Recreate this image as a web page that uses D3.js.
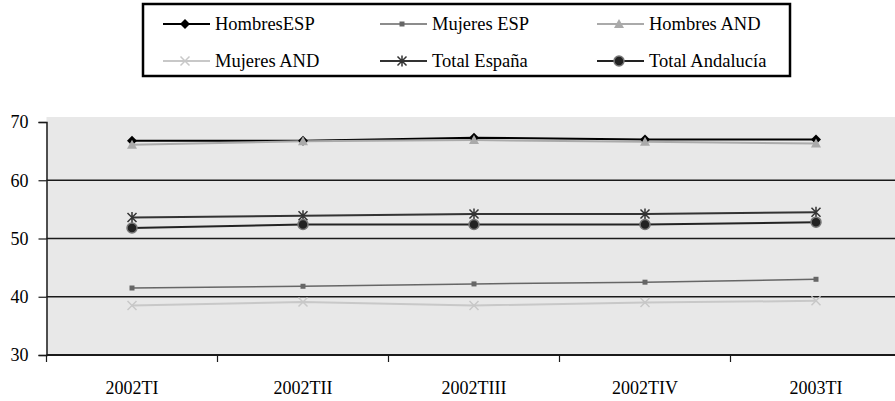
<!DOCTYPE html>
<html>
<head>
<meta charset="utf-8">
<script src="https://cdn.jsdelivr.net/npm/d3@7"></script>
<style>
  body { margin: 0; background: #fff; }
  svg { display: block; font-family: 'Liberation Serif', 'Times New Roman', Times, serif; }
</style>
</head>
<body>
<main></main>
<script>
const categories = ['2002TI', '2002TII', '2002TIII', '2002TIV', '2003TI'];
const yTicks = [30, 40, 50, 60, 70];

const hombresEsp = [66.8, 66.8, 67.3, 67.0, 67.0];
const mujeresEsp = [41.5, 41.8, 42.2, 42.5, 43.0];
const hombresAnd = [66.1, 66.7, 66.9, 66.6, 66.3];
const mujeresAnd = [38.5, 39.1, 38.5, 39.0, 39.3];
const totalEsp = [53.6, 53.9, 54.2, 54.2, 54.5];
const totalAnd = [51.8, 52.4, 52.4, 52.4, 52.8];

const seriesNames = ['HombresESP', 'Mujeres ESP', 'Hombres AND', 'Mujeres AND', 'Total España', 'Total Andalucía'];
const seriesValues = [hombresEsp, mujeresEsp, hombresAnd, mujeresAnd, totalEsp, totalAnd];

const width = 895;
const height = 401;
const font = "'Liberation Serif', 'Times New Roman', Times, serif";

// marker shapes, drawn around 0,0
const markers = {
  diamond: 'M0,-5L5,0L0,5L-5,0Z',
  square: 'M-2.5,-2.5h5v5h-5Z',
  triangle: 'M0,-5L5,4L-5,4Z',
  cross: 'M-4.5,-4.5L4.5,4.5M-4.5,4.5L4.5,-4.5',
  star: 'M-4.5,-4.5L4.5,4.5M-4.5,4.5L4.5,-4.5M0,-5.5V5.5',
  circle: 'M-5,0A5,5 0 1,0 5,0A5,5 0 1,0 -5,0Z'
};

const styles = [
  { line: '#000', width: 2, marker: 'diamond', fill: '#000', stroke: 'none' },
  { line: '#666', width: 1.5, marker: 'square', fill: '#666', stroke: 'none' },
  { line: '#aaa', width: 2, marker: 'triangle', fill: '#aaa', stroke: 'none' },
  { line: '#c8c8c8', width: 2, marker: 'cross', fill: 'none', stroke: '#c8c8c8' },
  { line: '#333', width: 2, marker: 'star', fill: 'none', stroke: '#333' },
  { line: '#222', width: 2, marker: 'circle', fill: '#222', stroke: '#777' }
];

const series = seriesNames.map((name, i) => ({ name, values: seriesValues[i], style: styles[i] }));

const svg = d3.select('main')
  .append('svg')
  .attr('width', width)
  .attr('height', height);

// Scales
const x = d3.scaleBand()
  .domain(categories)
  .range([46.5, 901.5]);

const y = d3.scaleLinear()
  .domain([30, 70])
  .range([355, 122]);

// Plot background
svg.append('rect')
  .attr('x', x.range()[0])
  .attr('y', 117)
  .attr('width', width - x.range()[0])
  .attr('height', y(30) - 117)
  .attr('fill', '#e8e8e8');

// Grid lines
svg.append('g')
  .selectAll('line')
  .data(yTicks.filter(d => d > 30 && d < 70))
  .enter()
  .append('line')
  .attr('x1', x.range()[0])
  .attr('x2', width)
  .attr('y1', d => y(d))
  .attr('y2', d => y(d))
  .attr('stroke', '#1a1a1a')
  .attr('stroke-width', 1.5);

// Y axis
const yAxis = svg.append('g')
  .attr('transform', `translate(${x.range()[0]},0)`)
  .call(d3.axisLeft(y).tickValues(yTicks).tickSize(8).tickPadding(10));

yAxis.select('.domain').attr('stroke', '#1a1a1a').attr('stroke-width', 1.5);
yAxis.selectAll('.tick line').attr('stroke', '#1a1a1a').attr('stroke-width', 1.2);
yAxis.selectAll('.tick text')
  .attr('fill', '#000')
  .style('font-size', '18px')
  .style('font-family', font);

// X axis
const xAxis = svg.append('g')
  .attr('transform', `translate(0,${y(30)})`)
  .call(d3.axisBottom(x).tickSize(0).tickPadding(26));

xAxis.select('.domain').remove();
xAxis.append('line')
  .attr('x1', x.range()[0])
  .attr('x2', width)
  .attr('stroke', '#1a1a1a')
  .attr('stroke-width', 2);
xAxis.selectAll('.boundary')
  .data(categories)
  .enter()
  .append('line')
  .attr('class', 'boundary')
  .attr('x1', d => x(d))
  .attr('x2', d => x(d))
  .attr('y2', 7)
  .attr('stroke', '#1a1a1a')
  .attr('stroke-width', 1.2);
xAxis.selectAll('.tick text')
  .attr('fill', '#000')
  .style('font-size', '18px')
  .style('font-family', font);

// Lines
const line = d3.line()
  .x((d, i) => x(categories[i]) + x.bandwidth() / 2)
  .y(d => y(d));

svg.append('g')
  .selectAll('path')
  .data(series)
  .enter()
  .append('path')
  .attr('d', d => line(d.values))
  .attr('fill', 'none')
  .attr('stroke', d => d.style.line)
  .attr('stroke-width', d => d.style.width);

// Markers
const markerGroups = svg.append('g')
  .selectAll('g')
  .data(series)
  .enter()
  .append('g');

markerGroups.selectAll('path')
  .data(d => d.values.map((v, i) => ({ v, i, style: d.style })))
  .enter()
  .append('path')
  .attr('transform', d => `translate(${x(categories[d.i]) + x.bandwidth() / 2},${y(d.v)})`)
  .attr('d', d => markers[d.style.marker])
  .attr('fill', d => d.style.fill)
  .attr('stroke', d => d.style.stroke)
  .attr('stroke-width', 1.5);

// Legend
const legend = svg.append('g');

legend.append('rect')
  .attr('x', 143)
  .attr('y', 4)
  .attr('width', 647)
  .attr('height', 72)
  .attr('fill', '#fff')
  .attr('stroke', '#000')
  .attr('stroke-width', 2.5);

const legendItems = legend.selectAll('.legend-item')
  .data(series)
  .enter()
  .append('g')
  .attr('class', 'legend-item')
  .attr('transform', (d, i) => `translate(${163 + (i % 3) * 217},${i < 3 ? 24 : 61})`);

legendItems.append('line')
  .attr('x1', 0)
  .attr('x2', 47)
  .attr('stroke', d => d.style.line)
  .attr('stroke-width', d => d.style.width);

legendItems.append('path')
  .attr('transform', 'translate(22,0)')
  .attr('d', d => markers[d.style.marker])
  .attr('fill', d => d.style.fill)
  .attr('stroke', d => d.style.stroke)
  .attr('stroke-width', 1.5);

legendItems.append('text')
  .text(d => d.name)
  .attr('x', 52)
  .attr('y', 6)
  .style('font-size', '18.5px')
  .style('font-family', font)
  .attr('fill', '#000');
</script>
</body>
</html>
